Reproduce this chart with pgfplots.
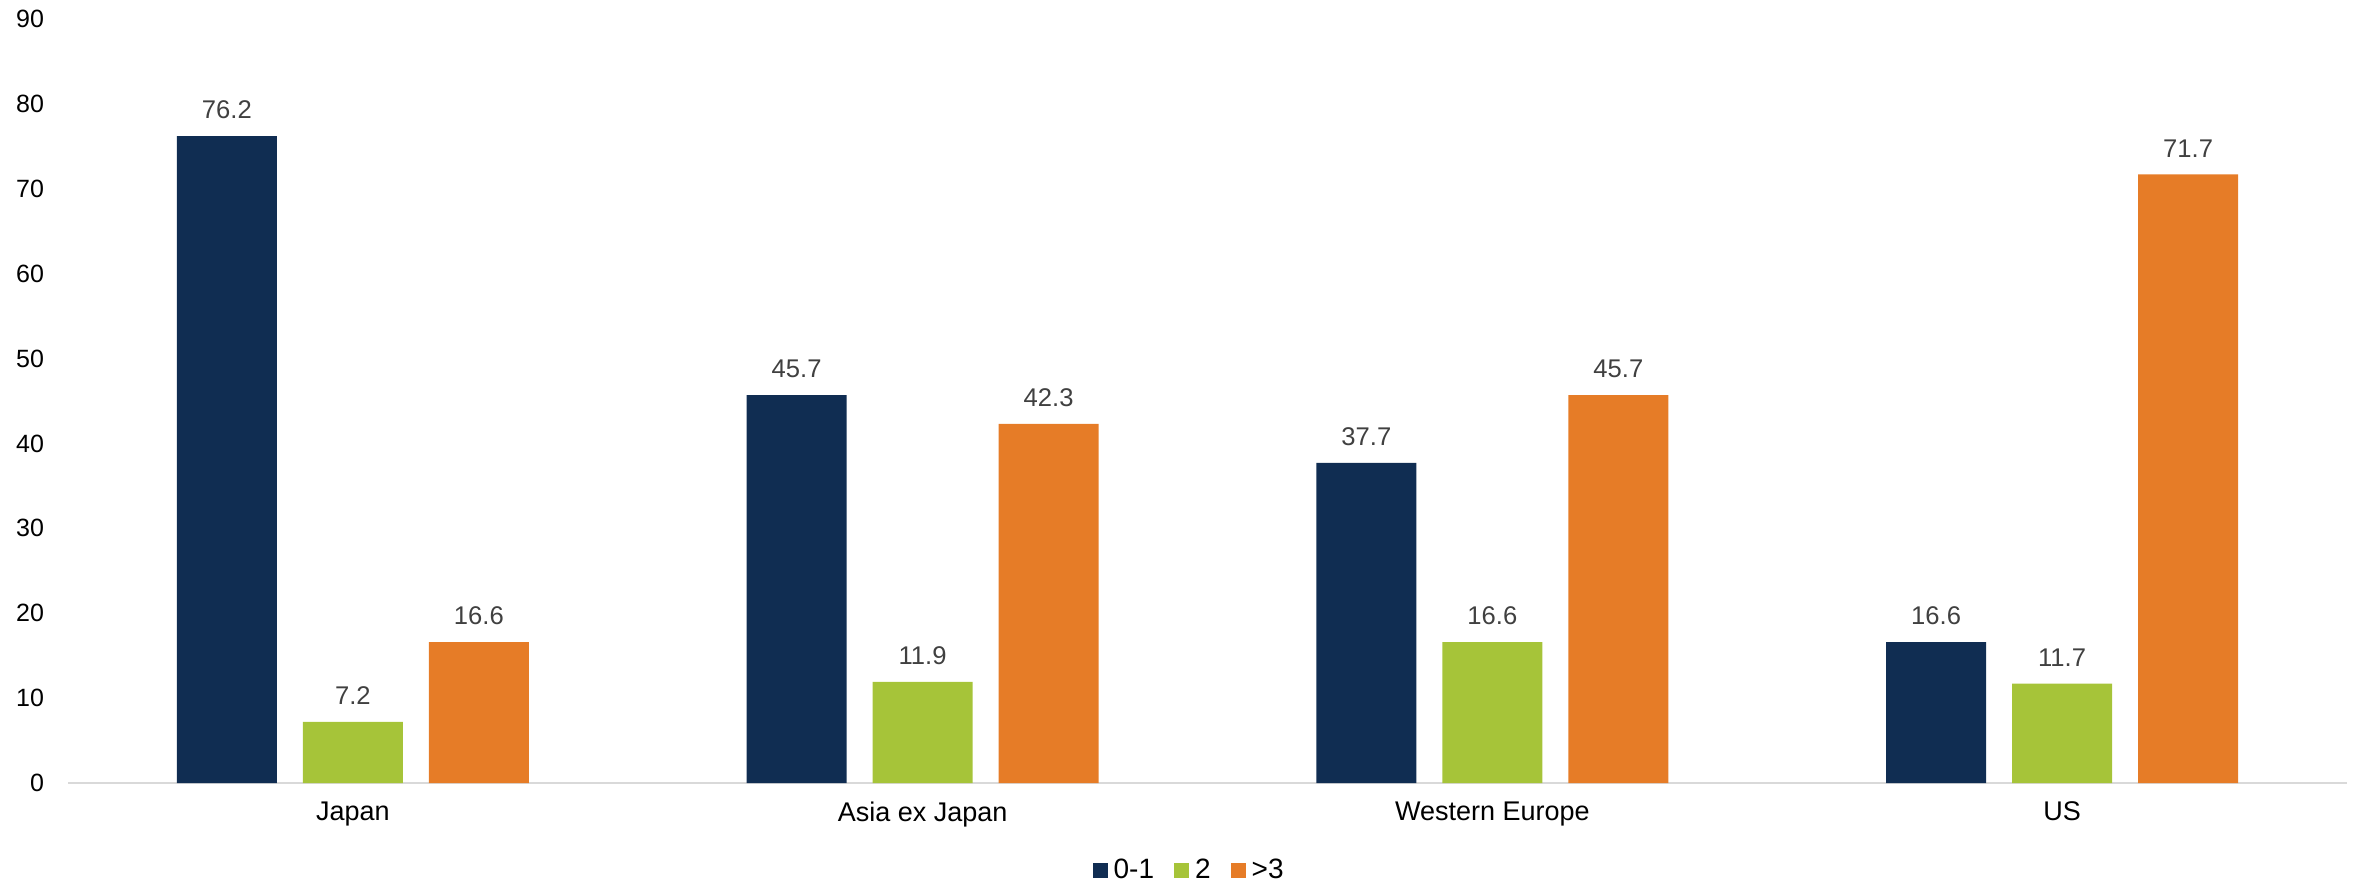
\documentclass[border=0pt]{standalone}
\usepackage{pgfplots}
\pgfplotsset{compat=1.18}
\usepackage{fontspec}
\setmainfont{Liberation Sans}
\definecolor{cnavy}{RGB}{16,45,82}
\definecolor{cgreen}{RGB}{166,196,57}
\definecolor{corange}{RGB}{230,124,39}
\definecolor{clabel}{RGB}{64,64,64}
\definecolor{caxis}{RGB}{217,217,217}
\begin{document}
\begin{tikzpicture}
\path[use as bounding box] (0,0) rectangle (1179.5pt,442.5pt);
\begin{axis}[
  at={(34pt,51pt)}, anchor=south west,
  scale only axis, width=1139.5pt, height=382pt,
  ybar=13pt, bar width=50pt,
  xmin=-0.5, xmax=3.5, ymin=0, ymax=90,
  enlargelimits=false, clip=false,
  xtick={0,1,2,3},
  xticklabels={Japan, Asia ex Japan, Western Europe, US},
  ytick={0,10,...,90},
  axis x line*=bottom, axis y line*=left,
  y axis line style={draw=none},
  x axis line style={draw=caxis, line width=1pt},
  major tick length=0pt, tick style={draw=none},
  /pgf/number format/assume math mode=true,
  yticklabel style={font=\fontsize{12.5}{14}\selectfont, text=black, xshift=-8.5pt},
  xticklabel style={font=\fontsize{13.5}{16}\selectfont, text=black, yshift=-6pt},
  nodes near coords={\pgfmathprintnumber[fixed,fixed zerofill,precision=1,assume math mode=true]{\pgfplotspointmeta}},
  every node near coord/.append style={font=\fontsize{12.8}{15}\selectfont, text=clabel, yshift=5pt},
  legend style={at={(0.4915,-0.1139)}, anchor=center, draw=none, fill=none,
    legend columns=-1, font=\fontsize{14}{16}\selectfont,
    nodes={inner xsep=0pt},
    /tikz/every odd column/.append style={column sep=3pt},
    /tikz/every even column/.append style={column sep=10pt}},
  legend image code/.code={\fill[#1] (0pt,-3.75pt) rectangle (7.5pt,3.75pt);},
]
\addplot[fill=cnavy, draw=none] coordinates {(0,76.2) (1,45.7) (2,37.7) (3,16.6)};
\addplot[fill=cgreen, draw=none] coordinates {(0,7.2) (1,11.9) (2,16.6) (3,11.7)};
\addplot[fill=corange, draw=none] coordinates {(0,16.6) (1,42.3) (2,45.7) (3,71.7)};
\legend{0-1, 2, >3}
\end{axis}
\end{tikzpicture}
\end{document}
